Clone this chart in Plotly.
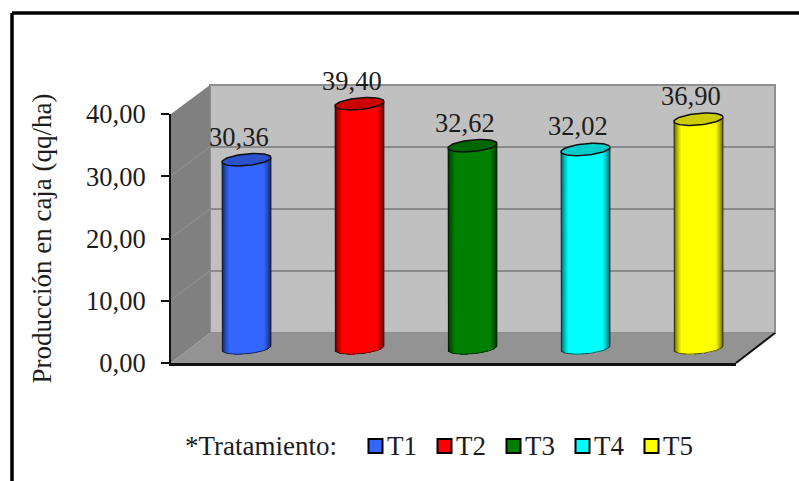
import numpy as np
import plotly.graph_objects as go

# ---- data ----
categories = ["T1", "T2", "T3", "T4", "T5"]
values = [30.36, 39.40, 32.62, 32.02, 36.90]
value_labels = ["30,36", "39,40", "32,62", "32,02", "36,90"]
colors = [(51, 102, 255), (255, 0, 0), (0, 128, 0), (0, 255, 255), (255, 255, 0)]
y_title = "Producción en caja (qq/ha)"
legend_title = "*Tratamiento:"

W, H = 799, 481
FONT = "Liberation Serif"
TXT = "#1c1c1c"
def xp(p): return p / W
def yp(p): return 1 - p / H
def xdom(a, b): return [xp(a), xp(b)]
def ydom(top, bottom): return [yp(bottom), yp(top)]

PX_PER_UNIT = 6.2     # cylinder vertical scale
PX_PER_CAT = 113.0    # cylinder horizontal scale
R_X = 24.5            # cylinder half width, px
R_Y = 5.8             # ellipse half height, px
TILT = 2.2            # ellipse tilt, px at edge (right side higher)

def shade(u):
    """brightness across the cylinder, u in -1..1"""
    a = abs(u)
    s = np.clip((1 - a) / 0.3, 0, 1)
    return 0.3 + 0.7 * s ** 0.7

def rgb(c, s):
    return "rgb(%d,%d,%d)" % tuple(int(round(v * s)) for v in c)

fig = go.Figure()
xpos = np.arange(len(categories))
vals = np.array(values)

# anchors for front axes and back-wall grid
fig.add_trace(go.Scatter(x=[0, 1], y=[0, 40], xaxis="x", yaxis="y", mode="markers",
                         marker=dict(opacity=0), hoverinfo="skip", showlegend=False))
fig.add_trace(go.Scatter(x=[0, 1], y=[0, 40], xaxis="x2", yaxis="y2", mode="markers",
                         marker=dict(opacity=0), hoverinfo="skip", showlegend=False))

# cylinder bodies: one-pixel strips with a shaded colour
n = int(2 * R_X)
for k in range(n):
    u = (k + 0.5) / n * 2 - 1
    base = (-np.sqrt(1 - u * u) * R_Y + TILT * u) / PX_PER_UNIT
    top = vals + TILT * u / PX_PER_UNIT
    fig.add_trace(go.Bar(
        x=xpos, y=top - base, base=np.full(len(vals), base),
        width=1.0 / PX_PER_CAT, offset=(k - n / 2) / PX_PER_CAT,
        marker=dict(color=[rgb(c, shade(u)) for c in colors], line=dict(width=0)),
        xaxis="x3", yaxis="y3", showlegend=False, hoverinfo="skip"))

# body outlines: sides and lower arc
arc = np.linspace(np.pi, 2 * np.pi, 37)
for i, v in enumerate(values):
    ax = R_X * np.cos(arc) / PX_PER_CAT
    ay = (R_Y * np.sin(arc) + TILT * np.cos(arc)) / PX_PER_UNIT
    ox = np.concatenate([[i - R_X / PX_PER_CAT], i + ax, [i + R_X / PX_PER_CAT]])
    oy = np.concatenate([[v - TILT / PX_PER_UNIT], ay, [v + TILT / PX_PER_UNIT]])
    fig.add_trace(go.Scatter(x=ox, y=oy, mode="lines", line=dict(color="rgba(15,15,15,0.7)", width=1),
                             xaxis="x3", yaxis="y3", hoverinfo="skip", showlegend=False))

# top caps
t = np.linspace(0, 2 * np.pi, 73)
for i, (v, c) in enumerate(zip(values, colors)):
    cx = i + R_X * np.cos(t) / PX_PER_CAT
    cy = v + (R_Y * np.sin(t) + TILT * np.cos(t)) / PX_PER_UNIT
    fig.add_trace(go.Scatter(
        x=cx, y=cy, mode="lines", fill="toself", fillcolor=rgb(c, 0.8),
        line=dict(color="#101010", width=1.5), xaxis="x3", yaxis="y3",
        name=categories[i], hoverinfo="name", showlegend=False))

# ---- static chart-frame pieces ----
def poly(pts, fill, line=None, lw=0, layer="below"):
    path = "M " + " L ".join(f"{xp(a):.5f},{yp(b):.5f}" for a, b in pts) + " Z"
    return dict(type="path", xref="paper", yref="paper", path=path, fillcolor=fill,
                line=dict(color=line or fill, width=lw), layer=layer)

def seg(a, b, c, d, color, lw, layer="below"):
    return dict(type="line", xref="paper", yref="paper", x0=xp(a), y0=yp(b), x1=xp(c), y1=yp(d),
                line=dict(color=color, width=lw), layer=layer)

shapes = [
    poly([(210, 85), (775, 85), (775, 333), (210, 333)], "#C0C0C0", "#8f8f8f", 2),
    poly([(171, 114), (210, 85), (210, 333), (171, 363)], "#808080"),
    poly([(171, 363), (210, 333), (775, 333), (736, 363)], "#939393"),
    seg(171, 363, 210, 333, "#9c9c9c", 1),
    seg(171, 176, 210, 147, "#8e8e8e", 1.5),
    seg(171, 238, 210, 209, "#8e8e8e", 1.5),
    seg(171, 300, 210, 271, "#8e8e8e", 1.5),
    seg(736, 363, 775, 333, "#111111", 2),
    seg(171, 365, 736, 365, "#b5b5b5", 1),
    # outer frame
    seg(12, 13, 799, 13, "#000000", 3.5),
    seg(12, 13, 12, 481, "#000000", 3.5),
]

annotations = []
# value labels, placed from the data
for i, lab in enumerate(value_labels):
    annotations.append(dict(x=i, y=values[i], xref="x3", yref="y3", text=lab, showarrow=False,
                            xshift=-8, yshift=6, yanchor="bottom", xanchor="center",
                            font=dict(family=FONT, size=26.5, color=TXT)))

# legend
annotations.append(dict(x=xp(183), y=yp(446), xref="paper", yref="paper", text=legend_title,
                        showarrow=False, xanchor="left", yanchor="middle",
                        font=dict(family=FONT, size=27, color=TXT)))
for i, (name, c) in enumerate(zip(categories, colors)):
    left = 368.5 + 69 * i
    shapes.append(dict(type="rect", xref="paper", yref="paper",
                       x0=xp(left), x1=xp(left + 14), y0=yp(453), y1=yp(439),
                       fillcolor=rgb(c, 1), line=dict(color="#000000", width=2)))
    annotations.append(dict(x=xp(left + 16.5), y=yp(446), xref="paper", yref="paper", text=name,
                            showarrow=False, xanchor="left", yanchor="middle",
                            font=dict(family=FONT, size=27, color=TXT)))

fig.update_layout(
    width=W, height=H, margin=dict(l=0, r=0, t=0, b=0, pad=0, autoexpand=False),
    paper_bgcolor="white", plot_bgcolor="rgba(0,0,0,0)",
    barmode="overlay", bargap=0, separators=", ", showlegend=False,
    shapes=shapes, annotations=annotations,
    xaxis=dict(domain=xdom(171, 736), range=[0, 1], showgrid=False, zeroline=False,
               showticklabels=False, ticks="", showline=True, linecolor="#111111", linewidth=3,
               anchor="y", fixedrange=True, automargin=False),
    yaxis=dict(domain=ydom(114, 363), range=[0, 40], dtick=10, tickformat=".2f",
               showgrid=False, zeroline=False, ticks="outside", ticklen=8, tickwidth=1.5,
               tickcolor="#111111", showline=True, linecolor="#111111", linewidth=2,
               tickfont=dict(family=FONT, size=26.5, color=TXT), ticklabelstandoff=10,
               title=dict(text=y_title, font=dict(family=FONT, size=27, color=TXT), standoff=27),
               anchor="x", fixedrange=True, automargin=False),
    xaxis2=dict(domain=xdom(210, 775), range=[0, 1], visible=False, anchor="y2", fixedrange=True,
                automargin=False),
    yaxis2=dict(domain=ydom(85, 333), range=[0, 40], dtick=10, showgrid=True, gridcolor="#8a8a8a",
                gridwidth=2, zeroline=False, showticklabels=False, ticks="", anchor="x2",
                fixedrange=True, automargin=False),
    xaxis3=dict(domain=xdom(190, 755), range=[-0.5, 4.5], visible=False, anchor="y3", fixedrange=True,
                automargin=False),
    yaxis3=dict(domain=ydom(348 - 42 * PX_PER_UNIT, 348 + 3 * PX_PER_UNIT), range=[-3, 42], visible=False,
                anchor="x3", fixedrange=True, automargin=False),
)

fig.write_html("out.html", config=dict(displayModeBar=False),
               post_script="document.body.style.margin='0';document.body.style.overflow='hidden';")
